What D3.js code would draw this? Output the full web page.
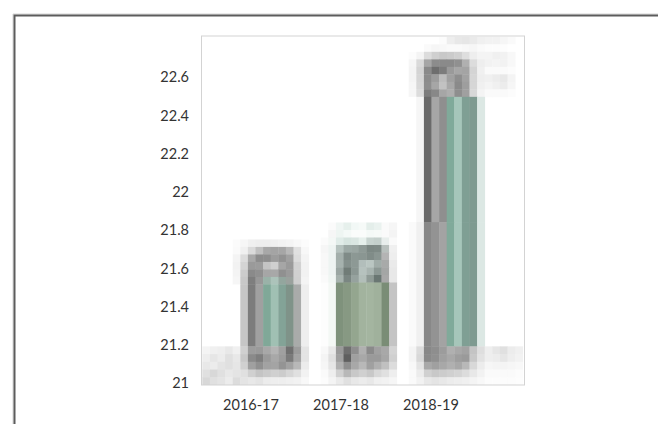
<!DOCTYPE html>
<html>
<head>
<meta charset="utf-8">
<script src="https://cdn.jsdelivr.net/npm/d3@7"></script>
<style>
  html, body { margin: 0; padding: 0; background: #ffffff; }
  svg { display: block; }
  text { font-family: Lato, "Open Sans", sans-serif; fill: #333333; }
</style>
</head>
<body>
<svg id="chart" width="658" height="424"></svg>
<script>
// ---------- data ----------
const categories = ["2016-17", "2017-18", "2018-19"];
const values = [21.71, 21.72, 22.73];
const yTicks = [21, 21.2, 21.4, 21.6, 21.8, 22, 22.2, 22.4, 22.6];
const yTickLabels = ["21", "21.2", "21.4", "21.6", "21.8", "22", "22.2", "22.4", "22.6"];

// ---------- style: blurred-bar textures (colours only) ----------
const bar1Style = {
  cap: { start: -2, lead: 1, rows: [
    ["#fbfbfb","#f6f6f6","#f0f0f0","#eeeeee","#eeeeee","#f0f0f0","#f2f2f2","#f4f4f4","#f8f8f8","#fcfcfc"],
    ["#fafafa","#f0f0f0","#dadada","#c0c0c0","#a8a8a8","#a4a4a4","#a6a6a6","#b8b8b8","#e0e0e0","#f8f8f8"],
    ["#f4f4f4","#dcdcdc","#a8a8a8","#8c8c8c","#8e8e8e","#9c9c9c","#929292","#a0a0a0","#dcdcdc","#f4f4f4"],
    ["#f2f2f2","#d4d4d4","#9a9a9a","#9c9c9c","#c4c4c4","#d0d0d0","#a6a6a6","#9a9a9a","#d2d2d2","#f2f2f2"],
    ["#f4f4f4","#cccccc","#8a8a8a","#909090","#a6a6a6","#a8a8a8","#909090","#9a9a9a","#d0d0d0","#f2f2f2"],
    ["#f6f6f6","#c8c8c8","#7e7e7e","#989898","#9ab2a8","#acc3ba","#93a69e","#9aa19d","#cfcfcf","#f4f4f4"]
  ]},
  body: [ { start: -2, split: null, cols: ["#ffffff","#c6c6c6","#7b7b7b","#a0a0a0","#80a898","#a0c0b3","#83a397","#7f9389","#a9abaa","#eeeeee"] } ],
  base: { start: -6, rows: [
    ["#f4f4f4","#f0f0f0","#eeeeee","#e8e8e8","#f0f0f0","#d0d0d0","#9c9c9c","#9a9a9a","#a8a8a8","#b4b4b4","#a0a0a0","#6f6f6f","#9c9c9c","#e4e4e4"],
    ["#eeeeee","#e6e6e6","#ececec","#e0e0e0","#e8e8e8","#c8c8c8","#8a8a8a","#7e7e7e","#9a9a9a","#a8a8a8","#9c9c9c","#7a7a7a","#a4a4a4","#e4e4e4"],
    ["#e8e8e8","#ececec","#e4e4e4","#e0e0e0","#e6e6e6","#d0d0d0","#a0a0a0","#909090","#a2a2a2","#a4a4a4","#949494","#a2a2a2","#b8b8b8","#ececec"],
    ["#e0e0e0","#d8d8d8","#e0e0e0","#e8e8e8","#e4e4e4","#e0e0e0","#d0d0d0","#c4c4c4","#cacaca","#d0d0d0","#cccccc","#d6d6d6","#e0e0e0","#f2f2f2"],
    ["#d8d8d8","#e0e0e0","#e4e4e4","#ececec","#dcdcdc","#e4e4e4","#e8e8e8","#e4e4e4","#ececec","#eeeeee","#eeeeee","#f0f0f0","#f2f2f2","#f8f8f8"]
  ]}
};
const bar2Style = {
  cap: { start: -2, lead: 3, rows: [
    ["#ffffff","#fbfbfb","#f0f6f4","#e6f0ec","#f2f8f6","#f6faf8","#e4eeea","#eaf2ef","#fafafa","#f6f6f6"],
    ["#ffffff","#f6f6f6","#eef5f2","#f4f9f7","#fafcfb","#fafcfb","#f4f9f7","#f6faf8","#fafafa","#f4f4f4"],
    ["#fbfbfb","#f4f8f6","#e0ece8","#d6e4df","#dae6e2","#e6f0ec","#c8d4d0","#c4d0cc","#e8eeec","#fafafa"],
    ["#f6f6f6","#eef4f2","#b5c2be","#9ca9a5","#9aa6a2","#8e9a96","#7c8884","#7e8a86","#b8c0bd","#f0f0f0"],
    ["#f8f8f8","#eef4f2","#a3afab","#7f8b87","#8c9894","#8a9692","#808c88","#8a9692","#b4b4b4","#eeeeee"],
    ["#f8f8f8","#eef4f2","#a6b2ae","#84908c","#8d9995","#b2bebb","#bac6c2","#a0aca8","#a8aaa9","#eaeaea"],
    ["#f8f8f8","#eef4f2","#9aa6a2","#6f7b77","#8b9793","#b6c2be","#a8b4b0","#8c9894","#a4a6a5","#e8e8e8"],
    ["#fafafa","#f0f6f3","#a6b2ad","#7a8682","#96a29e","#b2beb9","#8f9b96","#6b7773","#a8a8a8","#e8e8e8"]
  ]},
  body: [ { start: -2, split: null, cols: ["#fdfdfd","#f4f8f5","#7f927c","#879983","#94a68f","#a2b39e","#a4b5a0","#a0b19c","#7a8d76","#c4c4c4"] } ],
  base: { start: -2, rows: [
    ["#f8f8f8","#e8e8e8","#9a9a9a","#6e6e6e","#8e8e8e","#b0b0b0","#8a8a8a","#a0a0a0","#a8a8a8","#d4d4d4"],
    ["#f4f4f4","#e0e0e0","#a0a0a0","#5e5e5e","#a0a0a0","#a8a8a8","#9a9a9a","#9a9a9a","#a6a6a6","#d0d0d0"],
    ["#f6f6f6","#e6e6e6","#b0b0b0","#8e8e8e","#a8a8a8","#b8b8b8","#a0a0a0","#b0b0b0","#c0c0c0","#dcdcdc"],
    ["#fafafa","#eeeeee","#d0d0d0","#b8b8b8","#c8c8c8","#d0d0d0","#c8c8c8","#d8d8d8","#e0e0e0","#eeeeee"],
    ["#fcfcfc","#f4f4f4","#eaeaea","#e0e0e0","#e8e8e8","#ececec","#e8e8e8","#f0f0f0","#f2f2f2","#f6f6f6"]
  ]}
};
const bar3Style = {
  cap: { start: -2, lead: 2, rows: [
    ["#ffffff","#ffffff","#ffffff","#ffffff","#fcfcfc","#eeeeee","#e8e8e8","#e6e6e6","#eaeaea","#f0f0f0","#f2f2f2","#f2f2f2","#f6f6f6","#fafafa"],
    ["#ffffff","#ffffff","#fafafa","#f6f6f6","#f8f8f8","#fafafa","#fafafa","#f8f8f8","#f6f6f6","#fafafa","#fcfcfc","#fcfcfc","#fdfdfd","#ffffff"],
    ["#fcfcfc","#f4f4f4","#dcdcdc","#cfcfcf","#c8c8c8","#cbcbcb","#d0d0d0","#dedede","#eeeeee","#f4f4f4","#f4f4f4","#f0f0f0","#f2f2f2","#f8f8f8"],
    ["#f6f6f6","#dadada","#a6a6a6","#8c8c8c","#8a8a8a","#8a8a8a","#909090","#b0b0b0","#dcdcdc","#eeeeee","#f2f2f2","#f4f4f4","#f2f2f2","#f8f8f8"],
    ["#f4f4f4","#d4d4d4","#8a8a8a","#6e6e6e","#7c7c7c","#9a9a9a","#a6a6a6","#a4a4a4","#d4d4d4","#f0f0f0","#fafafa","#fafafa","#fafafa","#fcfcfc"],
    ["#f4f4f4","#d6d6d6","#8c8c8c","#9c9c9c","#bcbcbc","#a0a0a0","#8e8e8e","#a2a2a2","#d6d6d6","#eeeeee","#f0f0f0","#ececec","#e8e8e8","#f4f4f4"],
    ["#f6f6f6","#d8d8d8","#8e8e8e","#a6a6a6","#c2c2c2","#a8a8a8","#8a8a8a","#9e9e9e","#d6d6d6","#f0f0f0","#f4f4f4","#f0f0f0","#ececec","#f6f6f6"],
    ["#f6f6f6","#dcdcdc","#7c7c7c","#888888","#a6a6a6","#aeaeae","#8e8e8e","#a0a0a0","#d8d8d8","#f4f4f4","#fafafa","#fafafa","#fafafa","#fcfcfc"]
  ]},
  body: [
    { start: -2, split: 21.84, cols: ["#ffffff","#f6f6f6","#6a6a6a","#a6a6a6","#8f8f8f","#80aa9a","#a6c6ba","#7f9f94","#7e9a90","#dce8e4"] },
    { start: -2, split: null,  cols: ["#fafafa","#f0f0f0","#888888","#939393","#a3a3a3","#80aa9a","#a6c6ba","#7f9f94","#7e9a90","#dce8e4"] }
  ],
  base: { start: -2, rows: [
    ["#f4f4f4","#dcdcdc","#888888","#8e8e8e","#9c9c9c","#b0b0b0","#a8a8a8","#a2a2a2","#c4c4c4","#dedede","#eeeeee","#e6e6e6","#e0e0e0","#ececec","#f0f0f0"],
    ["#f4f4f4","#d8d8d8","#8a8a8a","#909090","#a0a0a0","#a8a8a8","#9e9e9e","#9a9a9a","#c8c8c8","#e2e2e2","#eeeeee","#ececec","#e6e6e6","#eeeeee","#f2f2f2"],
    ["#f8f8f8","#e4e4e4","#a8a8a8","#a0a0a0","#a8a8a8","#b0b0b0","#a8a8a8","#b8b8b8","#d8d8d8","#ececec","#f6f6f6","#f4f4f4","#f4f4f4","#f6f6f6","#f8f8f8"],
    ["#fafafa","#ececec","#d0d0d0","#c8c8c8","#cccccc","#d0d0d0","#d4d4d4","#dcdcdc","#e8e8e8","#f2f2f2","#fafafa","#fafafa","#fafafa","#fafafa","#fcfcfc"],
    ["#fafafa","#f2f2f2","#e8e8e8","#e4e4e4","#e8e8e8","#ececec","#eeeeee","#f0f0f0","#f4f4f4","#f8f8f8","#fcfcfc","#fcfcfc","#fcfcfc","#fcfcfc","#fdfdfd"]
  ]}
};
const barStyles = [bar1Style, bar2Style, bar3Style];

// ---------- layout ----------
const plot = { left: 201.5, top: 36, right: 524.5, bottom: 385 };
const baseTopValue = 21.19;   // where the grey base band begins
const bodyCols = 7;
const colW = 7.6;
const capRowH = 7.5;

const svg = d3.select("#chart");

const y = d3.scaleLinear().domain([21, 22.6]).range([382.7, 76.7]);
const xLabel = d3.scaleBand().domain(categories).range([206, 476]);
const xBar = d3.scaleBand().domain(categories).range([230.5, 494.5]);

// outer frame
svg.append("path").attr("d", "M13,424V14H658").attr("fill", "none")
  .attr("stroke", "#d4d4d4").attr("stroke-width", 1);
svg.append("path").attr("d", "M14.5,424V15.5H658").attr("fill", "none")
  .attr("stroke", "#5c5c5c").attr("stroke-width", 2);

// plot background
svg.append("rect").attr("x", plot.left).attr("y", plot.top)
  .attr("width", plot.right - plot.left).attr("height", plot.bottom - plot.top)
  .attr("fill", "#ffffff");

const defs = svg.append("defs");
defs.append("clipPath").attr("id", "plotClip").append("rect")
  .attr("x", plot.left).attr("y", plot.top)
  .attr("width", plot.right - plot.left).attr("height", plot.bottom - plot.top);
defs.append("filter").attr("id", "soft").attr("x", "-5%").attr("y", "-5%").attr("width", "110%").attr("height", "110%")
  .append("feGaussianBlur").attr("stdDeviation", 0.7);

const barsG = svg.append("g").attr("clip-path", "url(#plotClip)")
  .append("g").attr("filter", "url(#soft)");

function cells(g, x0, start, rowTop, rowH, rows) {
  rows.forEach((row, i) => {
    row.forEach((c, j) => {
      g.append("rect")
        .attr("x", x0 + (start + j) * colW)
        .attr("y", rowTop + i * rowH)
        .attr("width", colW + 0.4)
        .attr("height", rowH + 0.4)
        .attr("fill", c);
    });
  });
}

categories.forEach((cat, i) => {
  const st = barStyles[i];
  const g = barsG.append("g").attr("class", "bar");
  const bodyW = bodyCols * colW;
  const x0 = xBar(cat) + xBar.bandwidth() / 2 - bodyW / 2;
  const yTop = y(values[i]);
  const yBase = y(baseTopValue);

  // cap
  const capStart = yTop - st.cap.lead * capRowH;
  cells(g, x0, st.cap.start, capStart, capRowH, st.cap.rows);
  const capEnd = capStart + st.cap.rows.length * capRowH;

  // body segments
  let segTop = capEnd;
  st.body.forEach(seg => {
    const segBottom = seg.split == null ? yBase : y(seg.split);
    if (segBottom > segTop) {
      seg.cols.forEach((c, j) => {
        g.append("rect")
          .attr("x", x0 + (seg.start + j) * colW)
          .attr("y", segTop)
          .attr("width", colW + 0.4)
          .attr("height", segBottom - segTop + 0.4)
          .attr("fill", c);
      });
      segTop = segBottom;
    }
  });

  // base band
  const baseRowH = (plot.bottom - yBase) / st.base.rows.length;
  cells(g, x0, st.base.start, yBase, baseRowH, st.base.rows);
});

// plot frame
svg.append("rect").attr("x", plot.left).attr("y", plot.top)
  .attr("width", plot.right - plot.left).attr("height", plot.bottom - plot.top)
  .attr("fill", "none").attr("stroke", "#d3d3d3").attr("stroke-width", 1);

// y axis labels
const yAxis = d3.axisLeft(y).tickValues(yTicks)
  .tickFormat((d, i) => yTickLabels[i]).tickSize(0).tickPadding(0);
const yg = svg.append("g").attr("transform", "translate(189,0)").call(yAxis);
yg.select(".domain").remove();
yg.selectAll("text").attr("font-family", "Lato, 'Open Sans', sans-serif")
  .attr("font-size", 14.5).attr("fill", "#333333").attr("dy", "0.35em");

// x axis labels
const xAxis = d3.axisBottom(xLabel).tickSize(0).tickPadding(0);
const xg = svg.append("g").attr("transform", "translate(0,400)").call(xAxis);
xg.select(".domain").remove();
xg.selectAll("text").attr("font-family", "Lato, 'Open Sans', sans-serif")
  .attr("font-size", 14.5).attr("fill", "#333333").attr("dy", "0.35em").attr("y", 5);
</script>
</body>
</html>
